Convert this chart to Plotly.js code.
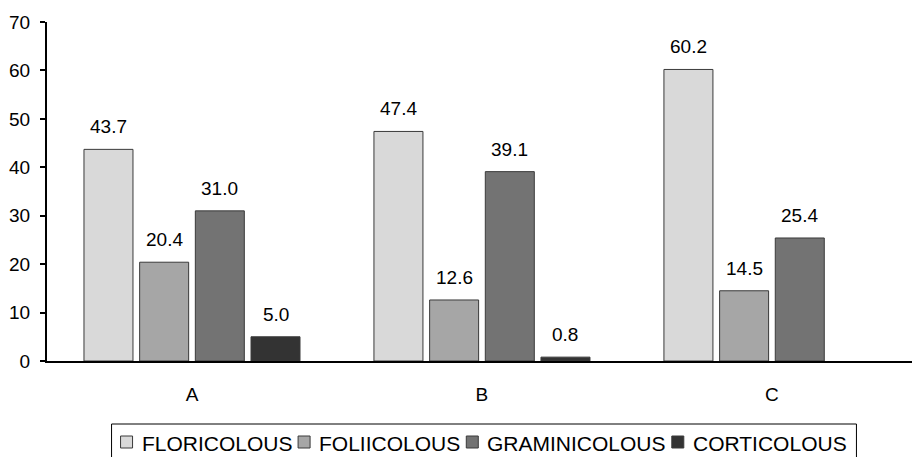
<!DOCTYPE html>
<html>
<head>
<meta charset="utf-8">
<script src="https://cdn.plot.ly/plotly-3.0.1.min.js"></script>
<style>
  html, body { margin: 0; padding: 0; background: #fff; }
  #chart { width: 912px; height: 457px; }
</style>
</head>
<body>
<div id="chart"></div>
<script>
// Sites along the x axis
const sites = ['A', 'B', 'C'];

// Share of species per substrate group, in percent
const floricolous   = [43.7, 47.4, 60.2];
const foliicolous   = [20.4, 12.6, 14.5];
const graminicolous = [31.0, 39.1, 25.4];
const corticolous   = [5.0, 0.8, null];

const seriesNames  = ['FLORICOLOUS', 'FOLIICOLOUS', 'GRAMINICOLOUS', 'CORTICOLOUS'];
const seriesValues = [floricolous, foliicolous, graminicolous, corticolous];
const seriesColors = ['#d9d9d9', '#a6a6a6', '#737373', '#333333'];

const FONT = 'Liberation Sans, Arial, sans-serif';
const BARGAP = 0.232;
const BARGROUPGAP = 0.12;
const BAR_EDGE = '#3a3a3a';

// Figure geometry (pixels)
const FIG_W = 912, FIG_H = 457;
const M = { l: 47, r: 0, t: 22, b: 96 };
const PLOT_W = FIG_W - M.l - M.r;
const PLOT_H = FIG_H - M.t - M.b;
const px2paperX = px => (px - M.l) / PLOT_W;
const px2paperY = py => (FIG_H - M.b - py) / PLOT_H;

const traces = seriesNames.map((name, k) => ({
  type: 'bar',
  name: name,
  x: sites.map((_, i) => i),
  y: seriesValues[k],
  marker: { color: seriesColors[k], line: { color: BAR_EDGE, width: 1 } },
  showlegend: false,
  hoverinfo: 'skip'
}));

// Value labels above each bar, placed at the centre of its slot in the group
const slot = (1 - BARGAP) / seriesNames.length;
const annotations = [];
seriesValues.forEach((vals, k) => {
  vals.forEach((v, i) => {
    if (v === null) return;
    annotations.push({
      x: i - (1 - BARGAP) / 2 + slot * (k + 0.5),
      y: v,
      xref: 'x', yref: 'y',
      text: v.toFixed(1),
      showarrow: false,
      yanchor: 'bottom',
      yshift: 10,
      font: { family: FONT, size: 19, color: '#000' }
    });
  });
});

// Boxed key below the axis: small square swatch followed by the series name
const shapes = [];
const LEG_FONT = 21;
const SWATCH = 12, GAP_SW_TXT = 8, GAP_ITEM = 7, PAD_L = 9, PAD_R = 11;
const LEG_CENTER = 484, LEG_TOP = 424, LEG_ROW = 442;
const ctx = document.createElement('canvas').getContext('2d');
ctx.font = LEG_FONT + 'px "Liberation Sans", Arial, sans-serif';
const textW = seriesNames.map(n => ctx.measureText(n).width);
const innerW = textW.reduce((s, w) => s + SWATCH + GAP_SW_TXT + w, 0) + GAP_ITEM * (seriesNames.length - 1);
const boxW = PAD_L + innerW + PAD_R;
const boxLeft = LEG_CENTER - boxW / 2;

shapes.push({
  type: 'rect', xref: 'paper', yref: 'paper', layer: 'above',
  x0: px2paperX(boxLeft), x1: px2paperX(boxLeft + boxW),
  y0: px2paperY(LEG_TOP), y1: px2paperY(FIG_H + 20),
  line: { color: '#000', width: 1 }, fillcolor: 'rgba(0,0,0,0)'
});

let cx = boxLeft + PAD_L;
seriesNames.forEach((name, k) => {
  shapes.push({
    type: 'rect', xref: 'paper', yref: 'paper', layer: 'above',
    x0: px2paperX(cx), x1: px2paperX(cx + SWATCH),
    y0: px2paperY(LEG_ROW - SWATCH / 2), y1: px2paperY(LEG_ROW + SWATCH / 2),
    line: { color: BAR_EDGE, width: 1 }, fillcolor: seriesColors[k]
  });
  cx += SWATCH + GAP_SW_TXT;
  annotations.push({
    x: px2paperX(cx), y: px2paperY(LEG_ROW + 1),
    xref: 'paper', yref: 'paper',
    xanchor: 'left', yanchor: 'middle',
    text: name, showarrow: false,
    borderpad: 0,
    font: { family: FONT, size: LEG_FONT, color: '#000' }
  });
  cx += textW[k] + GAP_ITEM;
});

const layout = {
  width: FIG_W,
  height: FIG_H,
  margin: M,
  paper_bgcolor: '#fff',
  plot_bgcolor: '#fff',
  barmode: 'group',
  bargap: BARGAP,
  bargroupgap: BARGROUPGAP,
  font: { family: FONT, size: 19, color: '#000' },
  showlegend: false,
  xaxis: {
    range: [-0.5, 2.483],
    tickmode: 'array',
    tickvals: sites.map((_, i) => i),
    ticktext: sites,
    showgrid: false,
    zeroline: false,
    showline: true,
    linecolor: '#000',
    linewidth: 2,
    ticks: '',
    ticklabelstandoff: 15,
    tickfont: { family: FONT, size: 19, color: '#000' },
    fixedrange: true
  },
  yaxis: {
    range: [0, 70],
    tickvals: [0, 10, 20, 30, 40, 50, 60, 70],
    showgrid: false,
    zeroline: false,
    showline: true,
    linecolor: '#000',
    linewidth: 2,
    ticks: 'outside',
    ticklen: 5,
    tickwidth: 2,
    tickcolor: '#000',
    ticklabelstandoff: 6,
    tickfont: { family: FONT, size: 19, color: '#000' },
    fixedrange: true
  },
  shapes: shapes,
  annotations: annotations
};

Plotly.newPlot('chart', traces, layout, { displayModeBar: false, staticPlot: true });
</script>
</body>
</html>
